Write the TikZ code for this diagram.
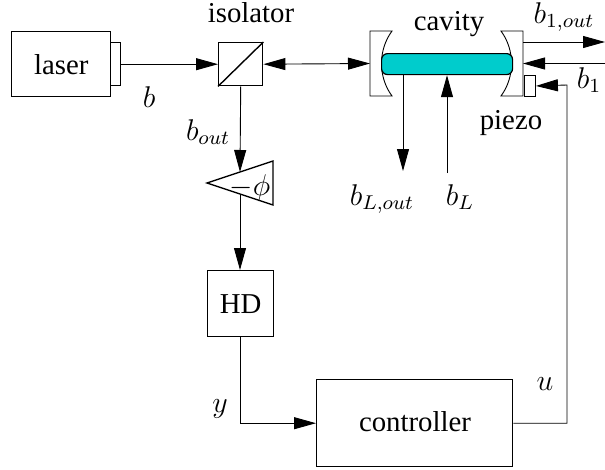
\documentclass[tikz,border=0pt]{standalone}
\usepackage{fontspec}
\setmainfont{Liberation Serif}
\usetikzlibrary{arrows.meta,calc}
\tikzset{
  every node/.style={font=\fontsize{28.8}{32}\selectfont},
  box/.style={draw,line width=1.4pt,inner sep=0pt,anchor=north west},
  conn/.style={line width=0.9pt,-{Triangle[length=22pt,width=12pt]}},
  dbl/.style={line width=0.9pt,{Triangle[length=22pt,width=12pt]}-{Triangle[length=22pt,width=12pt]}},
  lab/.style={inner sep=0pt,anchor=base},
  mlab/.style={inner sep=0pt,anchor=base,font=\fontsize{12}{14}\selectfont,scale=2.5},
}
\begin{document}
\begin{tikzpicture}[x=1pt,y=-1pt]
\useasboundingbox (0,0) rectangle (605,469);
% boxes
\node[box,minimum width=99pt,minimum height=65pt] (laser) at (11,31) {laser};
\node[box,minimum width=10pt,minimum height=43pt] (nozzle) at (110,42) {};
\node[box,minimum width=44pt,minimum height=43pt] (iso) at (218,42) {};
\draw[line width=1.4pt] (iso.south west) -- (iso.north east);
\node[box,minimum width=66pt,minimum height=66pt] (hd) at (207,270) {HD};
\node[box,minimum width=196pt,minimum height=87pt] (ctrl) at (316,379) {};
% mirrors
\coordinate (lm) at (370,63.5);
\coordinate (rm) at (523,63.5);
\draw[line width=0.9pt,fill=white] (370,31) -- (392,31) .. controls (378,50) and (378,77) .. (392,96) -- (370,96) -- cycle;
\draw[line width=0.9pt,fill=white] (523,31) -- (501,31) .. controls (515,50) and (515,77) .. (501,96) -- (523,96) -- cycle;
% cavity
\node[draw,line width=1.2pt,fill={rgb,255:red,0;green,204;blue,204},rounded corners=6pt,minimum width=131pt,minimum height=21pt,inner sep=0pt,anchor=north west] (cav) at (381,53) {};
% piezo
\node[box,line width=0.9pt,minimum width=11pt,minimum height=21pt] (pz) at (524,75) {};
% triangle
\coordinate (ta) at (207,183);
\coordinate (tb) at (273,161);
\coordinate (tc) at (273,205);
\draw[line width=1.4pt] (ta) -- (tb) -- (tc) -- cycle;
\node[mlab] (phi) at (250,195) {$-\phi$};
% free ends
\coordinate (bo1) at (605,42);
\coordinate (bi1) at (605,63.5);
\coordinate (lout) at (403,171);
\coordinate (lin) at (447,173);
\coordinate (ttop) at (240,172);
\coordinate (tbot) at (240,194);
\coordinate (ubend) at (567,85);
% connectors
\draw[conn] (nozzle.east) -- (iso.west);
\draw[dbl] (iso.east) -- (lm);
\draw[conn] (iso.south) -- (ttop);
\draw[conn] (tbot) -- (hd.north-|tbot);
\draw[conn] (hd.south) |- (ctrl.west);
\draw[conn] (ctrl.east) -| (ubend) -- (pz.east);
\draw[conn] (523,42) -- (bo1);
\draw[conn] (bi1) -- (rm);
\draw[conn] (cav.south-|lout) -- (lout);
\draw[conn] (lin) -- (cav.south-|lin);
% labels
\node[lab] (tctrl) at (415,431) {controller};
\node[lab] (tiso) at (251,22) {isolator};
\node[lab] (tcav) at (449,30) {cavity};
\node[lab] (tpiezo) at (511,129) {piezo};
\node[mlab] (lb) at (149,107) {$b$};
\node[mlab] (lbout) at (208,140) {$b_{out}$};
\node[mlab] (lb1o) at (564,23) {$b_{1,out}$};
\node[mlab] (lb1) at (589,88) {$b_1$};
\node[mlab] (lblo) at (382,205) {$b_{L,out}$};
\node[mlab] (lbl) at (460,205) {$b_L$};
\node[mlab] (ly) at (220,412) {$y$};
\node[mlab] (lu) at (545,390) {$u$};
\end{tikzpicture}
\end{document}
